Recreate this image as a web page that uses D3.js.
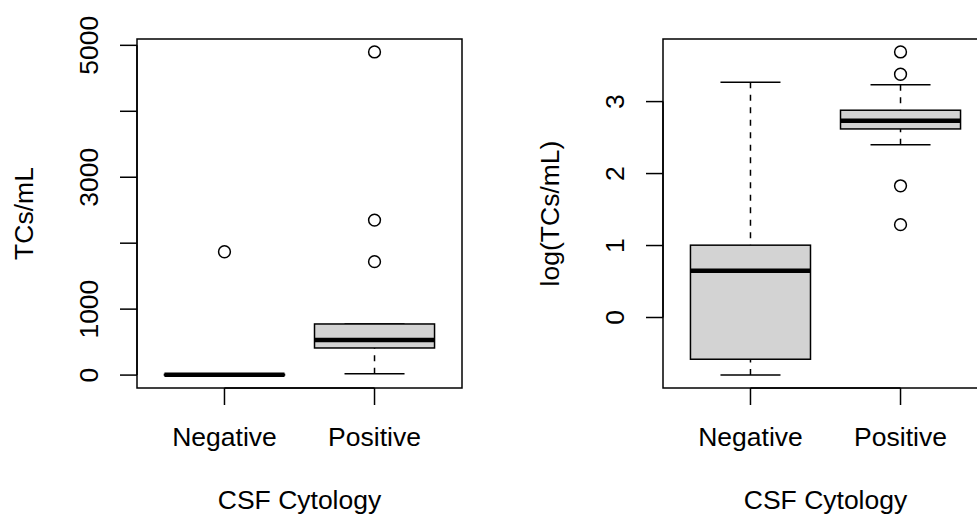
<!DOCTYPE html>
<html>
<head>
<meta charset="utf-8">
<script src="https://cdn.jsdelivr.net/npm/d3@7"></script>
<style>
  html, body { margin: 0; padding: 0; background: #fff; }
  svg { display: block; }
  text { font-family: "Liberation Sans", Arial, sans-serif; fill: #000; }
</style>
</head>
<body>
<div id="chart"></div>
<script>
// groups on the x axis
const categories = ["Negative", "Positive"];

// left panel: raw TCs/mL
const rawWhiskerLo = [0.16, 18.6];
const rawQ1 = [0.26, 411];
const rawMedian = [4.5, 533];
const rawQ3 = [10.2, 775];
const rawWhiskerHi = [20, 775];
const rawOutliers = [[1870], [4900, 2350, 1720]];
const rawTicks = [0, 1000, 2000, 3000, 4000, 5000];
const rawTickLabels = ["0", "1000", "", "3000", "", "5000"];

// right panel: log10 TCs/mL
const logWhiskerLo = [-0.80, 2.40];
const logQ1 = [-0.58, 2.62];
const logMedian = [0.65, 2.735];
const logQ3 = [1.005, 2.88];
const logWhiskerHi = [3.27, 3.235];
const logOutliers = [[], [3.69, 3.38, 1.83, 1.29]];
const logTicks = [0, 1, 2, 3];
const logTickLabels = ["0", "1", "2", "3"];

const W = 977, H = 516;
const FONT = 26.5;

const svg = d3.select("#chart").append("svg")
    .attr("width", W)
    .attr("height", H);

function drawPanel(opt) {
    const left = opt.left, right = opt.left + 325;
    const top = 39, bottom = 388;

    const stats = categories.map((c, i) => ({
        cat: c,
        lo: opt.lo[i], q1: opt.q1[i], med: opt.med[i],
        q3: opt.q3[i], hi: opt.hi[i], out: opt.out[i]
    }));

    // R style 4% padding on the data range
    const all = stats.flatMap(d => [d.lo, d.q1, d.med, d.q3, d.hi, ...d.out]);
    const ext = d3.extent(all);
    const pad = (ext[1] - ext[0]) * 0.04;

    const y = d3.scaleLinear()
        .domain([ext[0] - pad, ext[1] + pad])
        .range([bottom, top]);

    const x = d3.scalePoint()
        .domain(categories)
        .range([left, right])
        .padding(0.583);

    const step = x.step();
    const boxHalf = step * 0.4;
    const capHalf = step * 0.2;

    const g = svg.append("g");

    stats.forEach(d => {
        const cx = x(d.cat);

        // whiskers
        g.append("line")
            .attr("x1", cx).attr("x2", cx)
            .attr("y1", y(d.lo)).attr("y2", y(d.q1))
            .attr("stroke", "#000").attr("stroke-width", 1.5)
            .attr("stroke-dasharray", "6,6.5");
        g.append("line")
            .attr("x1", cx).attr("x2", cx)
            .attr("y1", y(d.hi)).attr("y2", y(d.q3))
            .attr("stroke", "#000").attr("stroke-width", 1.5)
            .attr("stroke-dasharray", "6,6.5");

        // caps
        [d.lo, d.hi].forEach(v => {
            g.append("line")
                .attr("x1", cx - capHalf).attr("x2", cx + capHalf)
                .attr("y1", y(v)).attr("y2", y(v))
                .attr("stroke", "#000").attr("stroke-width", 1.5);
        });

        // box
        g.append("rect")
            .attr("x", cx - boxHalf)
            .attr("y", y(d.q3))
            .attr("width", boxHalf * 2)
            .attr("height", Math.max(0, y(d.q1) - y(d.q3)))
            .attr("fill", "#d3d3d3")
            .attr("stroke", "#000")
            .attr("stroke-width", 1.5);

        // median
        g.append("line")
            .attr("x1", cx - boxHalf).attr("x2", cx + boxHalf)
            .attr("y1", y(d.med)).attr("y2", y(d.med))
            .attr("stroke", "#000").attr("stroke-width", 4.5);

        // outliers
        g.selectAll(null)
            .data(d.out)
            .enter()
            .append("circle")
            .attr("cx", cx)
            .attr("cy", v => y(v))
            .attr("r", 5.9)
            .attr("fill", "none")
            .attr("stroke", "#000")
            .attr("stroke-width", 1.5);
    });

    // frame
    g.append("rect")
        .attr("x", left).attr("y", top)
        .attr("width", right - left).attr("height", bottom - top)
        .attr("fill", "none")
        .attr("stroke", "#000")
        .attr("stroke-width", 1.5);

    // y axis
    const ya = g.append("g");
    ya.append("line")
        .attr("x1", left).attr("x2", left)
        .attr("y1", y(opt.ticks[0])).attr("y2", y(opt.ticks[opt.ticks.length - 1]))
        .attr("stroke", "#000").attr("stroke-width", 1.5);
    opt.ticks.forEach((t, i) => {
        ya.append("line")
            .attr("x1", left - 17).attr("x2", left)
            .attr("y1", y(t)).attr("y2", y(t))
            .attr("stroke", "#000").attr("stroke-width", 1.5);
        if (opt.tickLabels[i]) {
            ya.append("text")
                .attr("transform", `translate(${left - 39},${y(t)}) rotate(-90)`)
                .attr("text-anchor", "middle")
                .attr("font-size", FONT)
                .text(opt.tickLabels[i]);
        }
    });

    // x axis
    const xa = g.append("g");
    xa.append("line")
        .attr("x1", x(categories[0])).attr("x2", x(categories[categories.length - 1]))
        .attr("y1", bottom).attr("y2", bottom)
        .attr("stroke", "#000").attr("stroke-width", 1.5);
    categories.forEach(c => {
        xa.append("line")
            .attr("x1", x(c)).attr("x2", x(c))
            .attr("y1", bottom).attr("y2", bottom + 17)
            .attr("stroke", "#000").attr("stroke-width", 1.5);
        xa.append("text")
            .attr("x", x(c)).attr("y", bottom + 58)
            .attr("text-anchor", "middle")
            .attr("font-size", FONT)
            .text(c);
    });

    // titles
    g.append("text")
        .attr("x", (left + right) / 2).attr("y", bottom + 121)
        .attr("text-anchor", "middle")
        .attr("font-size", FONT)
        .text("CSF Cytology");
    g.append("text")
        .attr("transform", `translate(${left - 104},${(top + bottom) / 2}) rotate(-90)`)
        .attr("text-anchor", "middle")
        .attr("font-size", FONT)
        .text(opt.yTitle);
}

drawPanel({
    left: 137,
    lo: rawWhiskerLo, q1: rawQ1, med: rawMedian, q3: rawQ3, hi: rawWhiskerHi, out: rawOutliers,
    ticks: rawTicks, tickLabels: rawTickLabels,
    yTitle: "TCs/mL"
});

drawPanel({
    left: 663,
    lo: logWhiskerLo, q1: logQ1, med: logMedian, q3: logQ3, hi: logWhiskerHi, out: logOutliers,
    ticks: logTicks, tickLabels: logTickLabels,
    yTitle: "log(TCs/mL)"
});
</script>
</body>
</html>
